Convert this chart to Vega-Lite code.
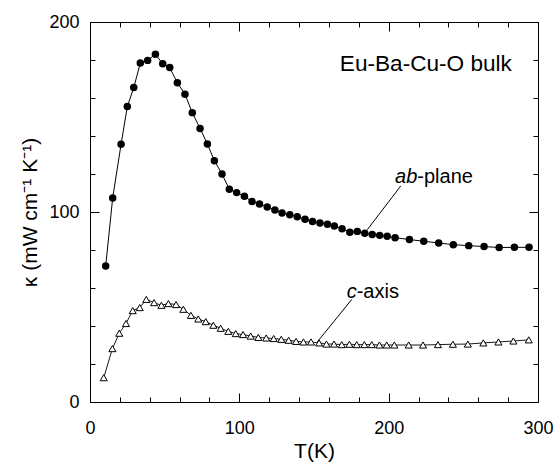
{
  "$schema": "https://vega.github.io/schema/vega-lite/v6.json",
  "width": 448,
  "height": 380,
  "autosize": {"type": "none"},
  "padding": {"left": 90, "top": 22, "right": 17, "bottom": 63},
  "background": "white",
  "config": {
    "view": {"stroke": "black", "strokeWidth": 1},
    "axis": {
      "grid": false,
      "labelFlush": false,
      "labelFont": "Liberation Sans",
      "labelFontSize": 18,
      "labelColor": "black",
      "titleFont": "Liberation Sans",
      "titleFontSize": 21,
      "titleFontWeight": "normal",
      "titleColor": "black",
      "labelOverlap": false
    },
    "text": {"font": "Liberation Sans", "color": "black"}
  },
  "datasets": {
    "ab": [
      {"T": 10.5, "K": 71.6}, {"T": 15.2, "K": 107.4}, {"T": 20.8, "K": 135.6}, {"T": 25.0, "K": 155.5},
      {"T": 29.3, "K": 165.5}, {"T": 33.7, "K": 178.4}, {"T": 38.6, "K": 179.8}, {"T": 43.8, "K": 183.0},
      {"T": 48.7, "K": 178.0}, {"T": 53.4, "K": 176.0}, {"T": 58.5, "K": 168.0}, {"T": 63.6, "K": 162.0},
      {"T": 68.5, "K": 152.3}, {"T": 73.7, "K": 144.0}, {"T": 78.6, "K": 135.8}, {"T": 83.3, "K": 127.0},
      {"T": 88.4, "K": 120.0}, {"T": 93.3, "K": 112.0}, {"T": 98.2, "K": 110.2}, {"T": 103.4, "K": 108.3},
      {"T": 108.5, "K": 105.5}, {"T": 113.5, "K": 104.2}, {"T": 118.7, "K": 102.6}, {"T": 123.8, "K": 101.1},
      {"T": 128.6, "K": 99.5}, {"T": 133.8, "K": 98.5}, {"T": 138.8, "K": 97.5}, {"T": 144.0, "K": 96.2},
      {"T": 149.0, "K": 95.0}, {"T": 154.0, "K": 94.2}, {"T": 159.0, "K": 93.5}, {"T": 163.6, "K": 92.6},
      {"T": 168.8, "K": 91.2}, {"T": 174.0, "K": 89.3}, {"T": 179.0, "K": 89.8}, {"T": 184.0, "K": 88.8},
      {"T": 189.0, "K": 88.1}, {"T": 194.0, "K": 87.7}, {"T": 199.0, "K": 87.2}, {"T": 204.3, "K": 86.5},
      {"T": 213.9, "K": 85.5}, {"T": 223.5, "K": 84.6}, {"T": 233.5, "K": 83.7}, {"T": 243.3, "K": 82.8},
      {"T": 253.6, "K": 82.3}, {"T": 263.9, "K": 81.8}, {"T": 274.0, "K": 81.3}, {"T": 284.2, "K": 81.4},
      {"T": 294.0, "K": 81.4}
    ],
    "c": [
      {"T": 9.2, "K": 12.8}, {"T": 15.0, "K": 28.1}, {"T": 19.6, "K": 36.2}, {"T": 24.1, "K": 41.3},
      {"T": 28.6, "K": 48.1}, {"T": 33.3, "K": 49.7}, {"T": 37.7, "K": 54.0}, {"T": 42.9, "K": 52.3},
      {"T": 47.8, "K": 50.9}, {"T": 52.5, "K": 51.8}, {"T": 57.6, "K": 51.3}, {"T": 62.5, "K": 48.8},
      {"T": 67.6, "K": 45.6}, {"T": 72.5, "K": 43.7}, {"T": 77.5, "K": 42.3}, {"T": 82.6, "K": 40.4},
      {"T": 87.5, "K": 38.8}, {"T": 92.6, "K": 37.2}, {"T": 97.6, "K": 36.0}, {"T": 102.5, "K": 35.5},
      {"T": 107.6, "K": 34.7}, {"T": 112.7, "K": 34.0}, {"T": 118.0, "K": 33.7}, {"T": 123.0, "K": 33.4},
      {"T": 128.1, "K": 33.0}, {"T": 133.0, "K": 32.5}, {"T": 138.0, "K": 31.9}, {"T": 142.9, "K": 31.6},
      {"T": 148.0, "K": 31.6}, {"T": 153.4, "K": 31.1}, {"T": 158.3, "K": 30.5}, {"T": 163.4, "K": 30.5},
      {"T": 168.6, "K": 30.2}, {"T": 173.7, "K": 30.4}, {"T": 178.6, "K": 30.2}, {"T": 183.7, "K": 30.2},
      {"T": 188.7, "K": 30.2}, {"T": 193.8, "K": 30.0}, {"T": 198.7, "K": 30.0}, {"T": 203.8, "K": 30.0},
      {"T": 213.4, "K": 30.0}, {"T": 223.0, "K": 30.0}, {"T": 233.0, "K": 30.2}, {"T": 243.0, "K": 30.4},
      {"T": 253.0, "K": 30.5}, {"T": 263.4, "K": 31.1}, {"T": 273.5, "K": 31.6}, {"T": 283.5, "K": 32.1},
      {"T": 293.8, "K": 32.7}
    ],
    "leaders": [
      {"T": 208.1, "K": 113.7, "T2": 185.7, "K2": 90.7},
      {"T": 175.3, "K": 54.0, "T2": 152.2, "K2": 31.6}
    ],
    "italicLabels": [
      {"T": 204.3, "K": 115.1, "text": "ab"},
      {"T": 171.9, "K": 54.9, "text": "c"}
    ],
    "plainLabels": [
      {"T": 219.2, "K": 115.1, "text": "-plane"},
      {"T": 178.6, "K": 54.9, "text": "-axis"}
    ],
    "titleLabel": [
      {"T": 167.3, "K": 174.1, "text": "Eu-Ba-Cu-O bulk"}
    ]
  },
  "layer": [
    {
      "data": {"name": "ab"},
      "mark": {"type": "line", "color": "black", "strokeWidth": 1},
      "encoding": {
        "x": {
          "field": "T", "type": "quantitative",
          "scale": {"domain": [0, 300], "nice": false, "zero": false},
          "axis": {
            "orient": "bottom",
            "title": "T(K)",
            "values": [0, 100, 200, 300],
            "domain": true, "domainColor": "black", "domainWidth": 1,
            "ticks": true, "tickColor": "black", "tickWidth": 1,
            "tickSize": -9,
            "labelPadding": 26,
            "titlePadding": 3
          }
        },
        "y": {
          "field": "K", "type": "quantitative",
          "scale": {"domain": [0, 200], "nice": false},
          "axis": {
            "orient": "left",
            "title": "κ (mW cm⁻¹ K⁻¹)",
            "values": [0, 100, 200],
            "domain": true, "domainColor": "black", "domainWidth": 1,
            "ticks": true, "tickColor": "black", "tickWidth": 1,
            "tickSize": -9,
            "labelPadding": 20,
            "titlePadding": 8
          }
        }
      }
    },
    {
      "data": {"name": "ab"},
      "mark": {"type": "point", "shape": "circle", "filled": true, "color": "black", "size": 56, "opacity": 1},
      "encoding": {
        "x": {
          "field": "T", "type": "quantitative",
          "axis": {"orient": "top", "title": null, "labels": false, "values": [0, 100, 200, 300],
            "domain": true, "domainColor": "black", "domainWidth": 1,
            "ticks": true, "tickColor": "black", "tickWidth": 1, "tickSize": -9}
        },
        "y": {
          "field": "K", "type": "quantitative",
          "axis": {"orient": "right", "title": null, "labels": false, "values": [0, 100, 200],
            "domain": true, "domainColor": "black", "domainWidth": 1,
            "ticks": true, "tickColor": "black", "tickWidth": 1, "tickSize": -9}
        }
      }
    },
    {
      "data": {"name": "c"},
      "mark": {"type": "line", "color": "black", "strokeWidth": 0.9},
      "encoding": {
        "x": {
          "field": "T", "type": "quantitative",
          "axis": {"orient": "bottom", "title": null, "labels": false, "values": [20, 40, 60, 80, 120, 140, 160, 180, 220, 240, 260, 280],
            "domain": false, "ticks": true, "tickColor": "black", "tickWidth": 1, "tickSize": -5}
        },
        "y": {
          "field": "K", "type": "quantitative",
          "axis": {"orient": "left", "title": null, "labels": false, "values": [20, 40, 60, 80, 120, 140, 160, 180],
            "domain": false, "ticks": true, "tickColor": "black", "tickWidth": 1, "tickSize": -5}
        }
      }
    },
    {
      "data": {"name": "c"},
      "mark": {"type": "point", "shape": "triangle-up", "filled": true, "fill": "white", "stroke": "black", "strokeWidth": 1, "size": 50, "opacity": 1},
      "encoding": {
        "x": {
          "field": "T", "type": "quantitative",
          "axis": {"orient": "top", "title": null, "labels": false, "values": [20, 40, 60, 80, 120, 140, 160, 180, 220, 240, 260, 280],
            "domain": false, "ticks": true, "tickColor": "black", "tickWidth": 1, "tickSize": -5}
        },
        "y": {
          "field": "K", "type": "quantitative",
          "axis": {"orient": "right", "title": null, "labels": false, "values": [20, 40, 60, 80, 120, 140, 160, 180],
            "domain": false, "ticks": true, "tickColor": "black", "tickWidth": 1, "tickSize": -5}
        }
      }
    },
    {
      "mark": {"type": "rule", "color": "black", "strokeWidth": 1},
      "encoding": {"x": {"datum": 0, "type": "quantitative", "axis": null}}
    },
    {
      "mark": {"type": "rule", "color": "black", "strokeWidth": 1},
      "encoding": {"x": {"datum": 300, "type": "quantitative", "axis": null}}
    },
    {
      "mark": {"type": "rule", "color": "black", "strokeWidth": 1},
      "encoding": {"y": {"datum": 0, "type": "quantitative", "axis": null}}
    },
    {
      "mark": {"type": "rule", "color": "black", "strokeWidth": 1},
      "encoding": {"y": {"datum": 200, "type": "quantitative", "axis": null}}
    },
    {
      "data": {"name": "leaders"},
      "mark": {"type": "rule", "color": "black", "strokeWidth": 1},
      "encoding": {
        "x": {"field": "T", "type": "quantitative", "axis": null},
        "y": {"field": "K", "type": "quantitative", "axis": null},
        "x2": {"field": "T2"},
        "y2": {"field": "K2"}
      }
    },
    {
      "data": {"name": "italicLabels"},
      "mark": {"type": "text", "align": "left", "baseline": "alphabetic", "fontSize": 20, "fontStyle": "italic"},
      "encoding": {
        "x": {"field": "T", "type": "quantitative", "axis": null},
        "y": {"field": "K", "type": "quantitative", "axis": null},
        "text": {"field": "text"}
      }
    },
    {
      "data": {"name": "plainLabels"},
      "mark": {"type": "text", "align": "left", "baseline": "alphabetic", "fontSize": 20},
      "encoding": {
        "x": {"field": "T", "type": "quantitative", "axis": null},
        "y": {"field": "K", "type": "quantitative", "axis": null},
        "text": {"field": "text"}
      }
    },
    {
      "data": {"name": "titleLabel"},
      "mark": {"type": "text", "align": "left", "baseline": "alphabetic", "fontSize": 22.6},
      "encoding": {
        "x": {"field": "T", "type": "quantitative", "axis": null},
        "y": {"field": "K", "type": "quantitative", "axis": null},
        "text": {"field": "text"}
      }
    }
  ],
  "resolve": {"axis": {"x": "independent", "y": "independent"}}
}
